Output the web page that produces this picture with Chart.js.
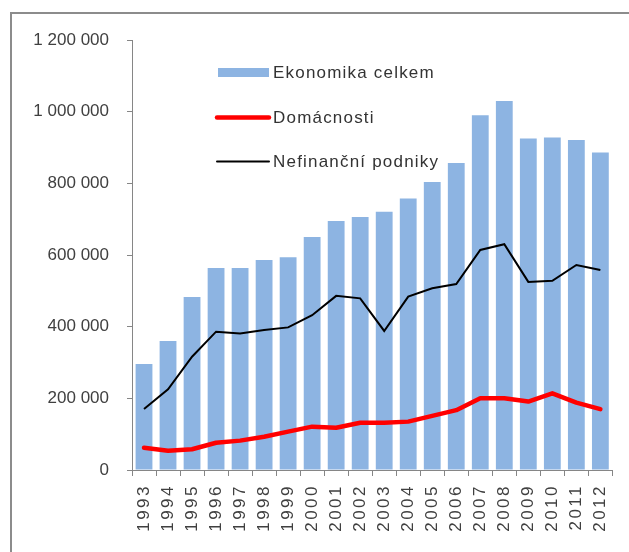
<!DOCTYPE html>
<html>
<head>
<meta charset="utf-8">
<script src="https://cdn.jsdelivr.net/npm/chart.js@4"></script>
<style>
html,body{margin:0;padding:0;background:#fff;}
canvas{display:block;}
</style>
</head>
<body>
<canvas id="c" width="629" height="552"></canvas>
<script>
const years = ['1993','1994','1995','1996','1997','1998','1999','2000','2001','2002','2003','2004','2005','2006','2007','2008','2009','2010','2011','2012'];
const ekonomikaCelkem = [296000, 360000, 483000, 564000, 564000, 586000, 594000, 650000, 695000, 706000, 721000, 758000, 804000, 857000, 990000, 1030000, 925000, 928000, 921000, 886000];
const domacnosti = [62000, 54000, 58000, 76000, 82000, 93000, 107000, 121000, 118000, 132000, 132000, 135000, 151000, 167000, 200000, 200000, 191000, 214000, 188000, 170000];
const nefinancniPodniky = [170000, 225000, 316000, 386000, 381000, 391000, 398000, 432000, 486000, 479000, 388000, 484000, 507000, 519000, 614000, 630000, 525000, 528000, 572000, 558000];
const yTicks = [0, 200000, 400000, 600000, 800000, 1000000, 1200000];

const FONT = '"Liberation Sans", Arial, sans-serif';
const TEXT = '#404040';
const AXIS = '#868686';

function fmt(v){ return String(v).replace(/\B(?=(\d{3})+(?!\d))/g, ' '); }

const framePlugin = {
  id: 'frame',
  beforeDraw(chart){
    const ctx = chart.ctx;
    ctx.save();
    ctx.fillStyle = '#fff';
    ctx.fillRect(0,0,chart.width,chart.height);
    ctx.strokeStyle = '#8c8c8c';
    ctx.lineWidth = 2;
    ctx.strokeRect(11, 13, chart.width + 20, chart.height + 20);
    ctx.restore();
  },
  afterLayout(chart){
    const xs = chart.scales.x;
    if (!xs._spaced) {
      const orig = xs.drawLabels;
      xs.drawLabels = function(area){
        const ctx = this.ctx;
        const prev = ctx.letterSpacing;
        ctx.letterSpacing = '2.5px';
        orig.call(this, area);
        ctx.letterSpacing = prev || '0px';
      };
      xs._spaced = true;
    }
  }
};

const legendPlugin = {
  id: 'innerLegend',
  afterDatasetsDraw(chart){
    const ctx = chart.ctx;
    const ds = chart.data.datasets;
    const rows = [72.5, 117.5, 161.5];
    ctx.save();
    ctx.font = '17px ' + FONT;
    ctx.letterSpacing = '1.2px';
    ctx.textBaseline = 'middle';
    ctx.textAlign = 'left';
    ds.forEach((d, i) => {
      const y = rows[i];
      if (d.type === 'bar') {
        ctx.fillStyle = d.backgroundColor;
        ctx.fillRect(218, y - 4.5, 51, 9);
      } else {
        ctx.strokeStyle = d.borderColor;
        ctx.lineWidth = d.borderWidth;
        ctx.lineCap = 'round';
        ctx.beginPath();
        ctx.moveTo(217, y);
        ctx.lineTo(269, y);
        ctx.stroke();
      }
      ctx.fillStyle = '#333';
      ctx.fillText(d.label, 273, y + 1);
    });
    ctx.letterSpacing = '0px';
    ctx.restore();
  }
};

new Chart(document.getElementById('c'), {
  data: {
    labels: years,
    datasets: [
      { type: 'bar', label: 'Ekonomika celkem', data: ekonomikaCelkem, backgroundColor: '#8DB4E2', categoryPercentage: 1.0, barPercentage: 0.7, order: 3 },
      { type: 'line', label: 'Domácnosti', data: domacnosti, borderColor: '#FF0000', borderWidth: 4.5, pointRadius: 0, tension: 0, borderCapStyle: 'round', borderJoinStyle: 'round', order: 2 },
      { type: 'line', label: 'Nefinanční podniky', data: nefinancniPodniky, borderColor: '#000000', borderWidth: 2, pointRadius: 0, tension: 0, order: 1 }
    ]
  },
  options: {
    responsive: false,
    animation: false,
    events: [],
    layout: { padding: { left: 0, top: 40, right: 9, bottom: 0 } },
    plugins: { legend: { display: false }, tooltip: { enabled: false } },
    scales: {
      x: {
        offset: true,
        grid: { offset: true, drawOnChartArea: false, drawTicks: true, tickLength: 6, color: AXIS },
        border: { color: AXIS, width: 1 },
        ticks: { minRotation: 90, maxRotation: 90, autoSkip: false, padding: 8, color: TEXT, font: { family: FONT, size: 17 } },
        afterFit(s){ s.height = 82; }
      },
      y: {
        min: 0, max: 1200000,
        afterBuildTicks(s){ s.ticks = yTicks.map(v => ({ value: v })); },
        grid: { drawOnChartArea: false, drawTicks: true, tickLength: 5, color: AXIS },
        border: { color: AXIS, width: 1 },
        ticks: { padding: 18, color: TEXT, font: { family: FONT, size: 17 }, callback: v => fmt(v) },
        afterFit(s){ s.width = 132; }
      }
    }
  },
  plugins: [framePlugin, legendPlugin]
});
</script>
</body>
</html>
